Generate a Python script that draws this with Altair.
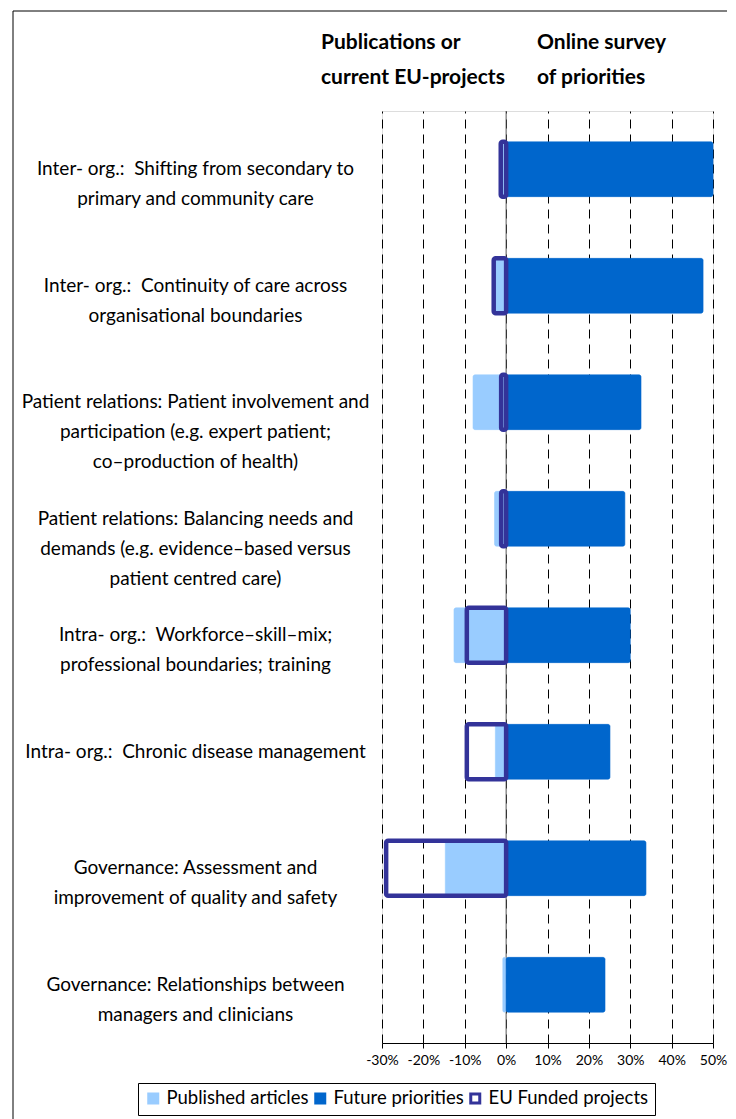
import altair as alt
import pandas as pd

# ---- data ----
categories = [
    "Inter- org.:\u00a0\u00a0Shifting from secondary to|primary and community care",
    "Inter- org.:\u00a0\u00a0Continuity of care across|organisational boundaries",
    "Patient relations: Patient involvement and|participation (e.g. expert patient;|co–production of health)",
    "Patient relations: Balancing needs and|demands (e.g. evidence–based versus|patient centred care)",
    "Intra- org.:\u00a0\u00a0Workforce–skill–mix;|professional boundaries; training",
    "Intra- org.:\u00a0\u00a0Chronic disease management",
    "Governance: Assessment and|improvement of quality and safety",
    "Governance: Relationships between|managers and clinicians",
]
published = [-0.010, -0.025, -0.080, -0.028, -0.126, -0.026, -0.147, -0.008]
future = [0.500, 0.476, 0.326, 0.287, 0.300, 0.251, 0.338, 0.239]
eu_projects = [-0.013, -0.030, -0.012, -0.012, -0.095, -0.095, -0.290, 0.0]
series_names = ["Published articles", "Future priorities", "EU Funded projects"]
x_ticks = [-0.3, -0.2, -0.1, 0.0, 0.1, 0.2, 0.3, 0.4, 0.5]
header_left = ["Publications or", "current EU-projects"]
header_right = ["Online survey", "of priorities"]

rows = []
for s, vals in zip(series_names, [published, future, eu_projects]):
    for c, v in zip(categories, vals):
        if v != 0:
            rows.append({"category": c, "series": s, "value": v})
df = pd.DataFrame(rows)

FONT = "Lato"
fill_colors = ["#99CCFF", "#0066CC", "transparent"]
stroke_colors = ["#99CCFF", "#0066CC", "#333399"]

legend = alt.Legend(
    title=None, orient="none", legendX=-244, legendY=972, direction="horizontal",
    columns=3, strokeColor="black", fillColor="white", padding=6,
    labelFont=FONT, labelFontSize=18.5, labelColor="black", labelOffset=4,
    labelLimit=300, symbolType="square", symbolSize=81, symbolStrokeWidth=3,
    columnPadding=0,
)

x_enc = alt.X(
    "value:Q", stack=None,
    scale=alt.Scale(domain=[-0.3, 0.5], nice=False),
    axis=alt.Axis(
        title=None, values=x_ticks, grid=True, gridDash=[9, 6],
        labelExpr="(datum.value < 0 ? '-' : '') + format(abs(datum.value), '.0%')",
        gridColor="black", gridWidth=1, domainColor="black", tickColor="black",
        tickSize=5, labelFont=FONT, labelFontSize=14, labelColor="black",
        labelPadding=5, labelFlush=False, labelOverlap=False,
    ),
)
y_enc = alt.Y(
    "category:N", sort=categories,
    scale=alt.Scale(paddingInner=0.53, paddingOuter=0.265),
    axis=alt.Axis(
        title=None, labelExpr="split(datum.label, '|')", domain=False, ticks=False,
        tickSize=0, labelAlign="center", labelPadding=187, labelFont=FONT,
        labelFontSize=19, labelColor="black", labelLineHeight=30, labelLimit=420,
    ),
)

bars = alt.Chart(df).transform_calculate(
    sw="datum.series === 'EU Funded projects' ? 4.5 : 0.6"
).mark_bar(cornerRadius=2).encode(
    x=x_enc,
    y=y_enc,
    fill=alt.Fill("series:N", scale=alt.Scale(domain=series_names, range=fill_colors), legend=legend),
    stroke=alt.Stroke("series:N", scale=alt.Scale(domain=series_names, range=stroke_colors), legend=legend),
    strokeWidth=alt.StrokeWidth("sw:Q", scale=None, legend=None),
)

zero_rule = alt.Chart(pd.DataFrame({"value": [0.0]})).mark_rule(color="#555555", strokeWidth=1).encode(
    x=alt.X("value:Q")
)

hdr = pd.DataFrame({"a": [0]})
head_l = alt.Chart(hdr).mark_text(
    text=header_left, align="left", baseline="alphabetic", font=FONT, fontSize=21,
    fontWeight="bold", lineHeight=35, color="black",
).encode(x=alt.value(-61), y=alt.value(-62))
head_r = alt.Chart(hdr).mark_text(
    text=header_right, align="left", baseline="alphabetic", font=FONT, fontSize=21,
    fontWeight="bold", lineHeight=35, color="black",
).encode(x=alt.value(155), y=alt.value(-62))

frame_top = alt.Chart(hdr).mark_rule(color="black", strokeWidth=1).encode(
    x=alt.value(-369), x2=alt.value(345), y=alt.value(-100)
)
frame_left = alt.Chart(hdr).mark_rule(color="black", strokeWidth=1).encode(
    x=alt.value(-369), y=alt.value(-100), y2=alt.value(1030)
)

chart = alt.layer(zero_rule, bars, head_l, head_r, frame_top, frame_left).properties(
    width=331, height=932, padding={"left": 4, "top": 2, "right": 0, "bottom": 0},
).configure_view(stroke="#808080", strokeWidth=1).configure(background="white")

chart.save("out.html", embed_options={"renderer": "svg", "actions": False})
